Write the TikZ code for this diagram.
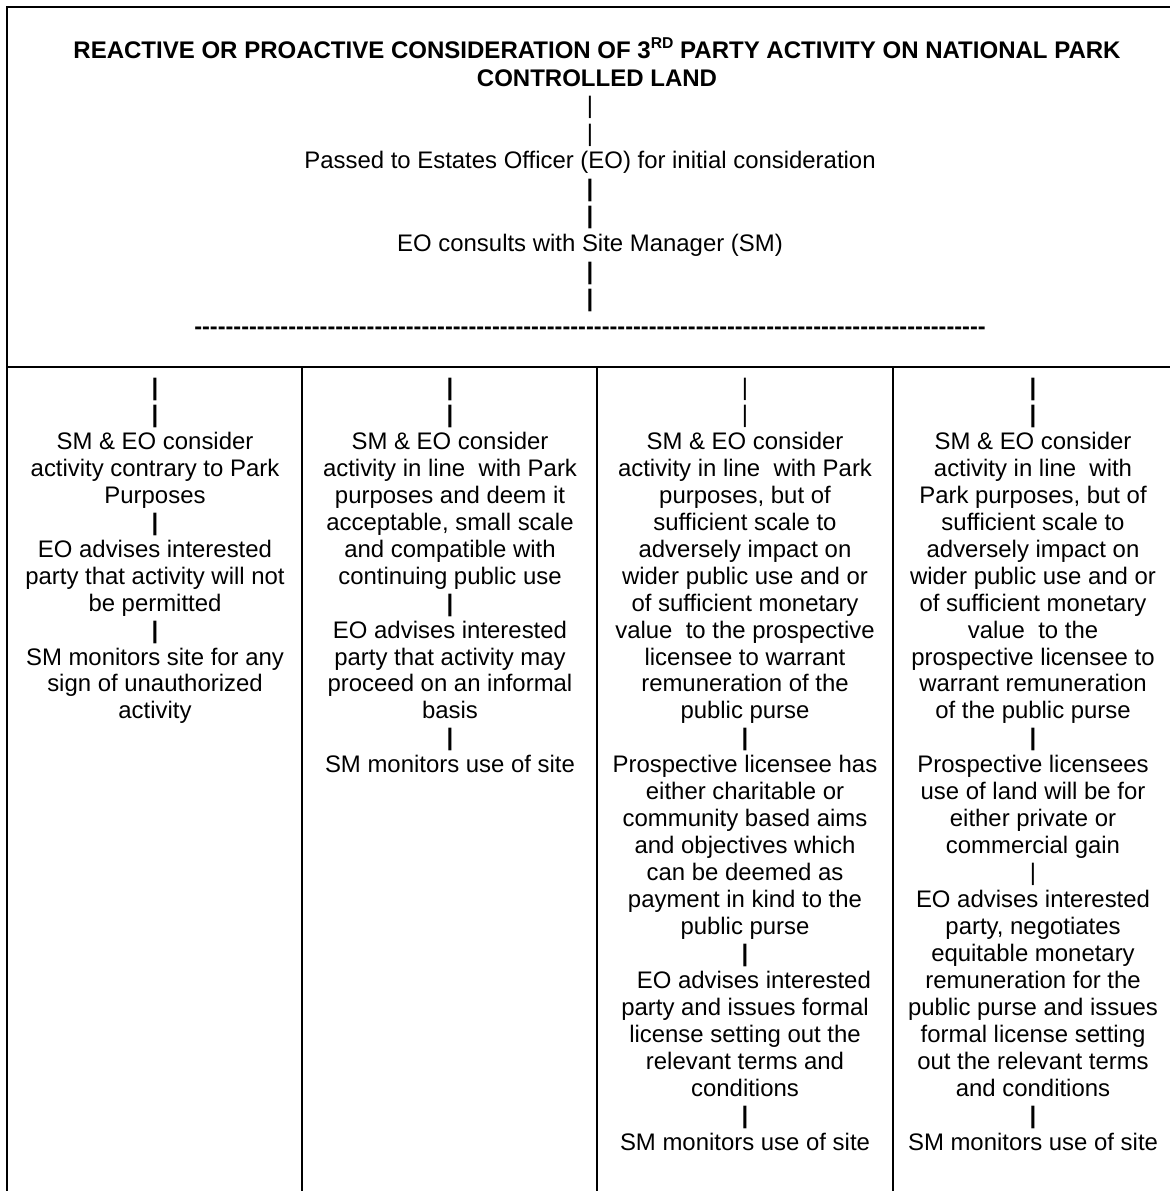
\documentclass[tikz,border=0pt]{standalone}
\usepackage{fontspec}
\setmainfont{Liberation Sans}
\newcommand{\thickbar}{\textbf{|}}
\newcommand{\thinbar}{|}
\newcommand{\fs}{\rule{0pt}{10pt}}
\newcommand{\dashrow}{{\fontsize{12pt}{14.1pt}\selectfont\foreach \i in {1,...,101}{-\kern0pt}}}
\begin{document}
\begin{tikzpicture}[x=0.51pt,y=-0.51pt,
  txt/.style={inner sep=0pt, align=center, anchor=north, font=\fontsize{12.2pt}{13.75pt}\selectfont},
  border/.style={line width=1.1pt, line cap=rect}]
\useasboundingbox[fill=white] (0,0) rectangle (1170,1191);
% table rules
\coordinate (tl) at (7,7);
\coordinate (tr) at (1170,7);
\coordinate (bl) at (7,1191);
\coordinate (ml) at (7,367);
\coordinate (mr) at (1170,367);
\coordinate (d1t) at (302,367); \coordinate (d1b) at (302,1191);
\coordinate (d2t) at (597,367); \coordinate (d2b) at (597,1191);
\coordinate (d3t) at (893,367); \coordinate (d3b) at (893,1191);
\draw[border] (tr) -- (tl) -- (bl);
\draw[border] (ml) -- (mr);
\draw[border] (d1t) -- (d1b);
\draw[border] (d2t) -- (d2b);
\draw[border] (d3t) -- (d3b);
% header
\node[txt, font=\bfseries\fontsize{12.25pt}{14.2pt}\selectfont] (title) at (597,37.4)
  {\fs REACTIVE OR PROACTIVE CONSIDERATION OF 3\raisebox{5pt}{\fontsize{8pt}{8pt}\selectfont RD} PARTY ACTIVITY ON NATIONAL PARK\\
   CONTROLLED LAND};
\node[txt, font=\fontsize{12.2pt}{14.1pt}\selectfont] (flow) at (590,93.4)
  {\fs\thinbar\\ \thinbar\\
   Passed to Estates Officer (EO) for initial consideration\\
   \thickbar\\ \thickbar\\
   EO consults with Site Manager (SM)\\
   \thickbar\\ \thickbar\\
   \textbf{\dashrow}};
% columns
\node[txt] (c1) at (155,375.4)
  {\fs\thickbar\\ \thickbar\\
   SM \& EO consider\\ activity contrary to Park\\ Purposes\\
   \thickbar\\
   EO advises interested\\ party that activity will not\\ be permitted\\
   \thickbar\\
   SM monitors site for any\\ sign of unauthorized\\ activity};
\node[txt] (c2) at (450,375.4)
  {\fs\thickbar\\ \thickbar\\
   SM \& EO consider\\ activity in line\ \ with Park\\ purposes and deem it\\ acceptable, small scale\\ and compatible with\\ continuing public use\\
   \thickbar\\
   EO advises interested\\ party that activity may\\ proceed on an informal\\ basis\\
   \thickbar\\
   SM monitors use of site};
\node[txt] (c3) at (745,375.4)
  {\fs\thinbar\\ \thinbar\\
   SM \& EO consider\\ activity in line\ \ with Park\\ purposes, but of\\ sufficient scale to\\ adversely impact on\\ wider public use and or\\ of sufficient monetary\\ value\ \ to the prospective\\ licensee to warrant\\ remuneration of the\\ public purse\\
   \thickbar\\
   Prospective licensee has\\ either charitable or\\ community based aims\\ and objectives which\\ can be deemed as\\ payment in kind to the\\ public purse\\
   \thickbar\\
   \hspace*{9pt}EO advises interested\\ party and issues formal\\ license setting out the\\ relevant terms and\\ conditions\\
   \thickbar\\
   SM monitors use of site};
\node[txt] (c4) at (1033,375.4)
  {\fs\thickbar\\ \thickbar\\
   SM \& EO consider\\ activity in line\ \ with\\ Park purposes, but of\\ sufficient scale to\\ adversely impact on\\ wider public use and or\\ of sufficient monetary\\ value\ \ to the\\ prospective licensee to\\ warrant remuneration\\ of the public purse\\
   \thickbar\\
   Prospective licensees\\ use of land will be for\\ either private or\\ commercial gain\\
   \thinbar\\
   EO advises interested\\ party, negotiates\\ equitable monetary\\ remuneration for the\\ public purse and issues\\ formal license setting\\ out the relevant terms\\ and conditions\\
   \thickbar\\
   SM monitors use of site};
\end{tikzpicture}
\end{document}
